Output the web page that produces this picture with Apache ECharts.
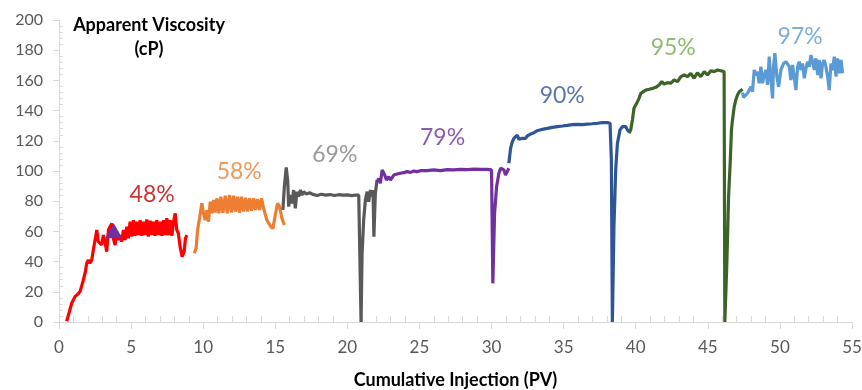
<!DOCTYPE html>
<html><head><meta charset="utf-8">
<script src="https://cdn.jsdelivr.net/npm/echarts@6/dist/echarts.min.js"></script>
<style>html,body{margin:0;padding:0;background:#fff}#c{width:862px;height:390px}</style>
</head><body><div id="c"></div>
<script>
// x range / ticks
const xMin = 0, xMax = 55, xStep = 5;
const yMin = 0, yMax = 200, yStep = 20;

// 48%
const red = [[0.53,0.5],[0.72,6.8],[0.88,12.4],[1.11,16.8],[1.3,18.5],[1.46,20.1],[1.69,27.8],[1.83,33.3],[1.92,38.9],[2.04,41.1],[2.15,38.9],[2.27,41.1],[2.38,47.7],[2.5,48.8],[2.62,60.9],[2.73,53.2],[2.85,54.3],[2.96,51.0],[3.08,57.6],[3.19,53.2],[3.31,46.6],[3.43,60.9],[3.54,63.1],[3.66,65.3],[3.77,55.4],[3.89,51.0],[4.0,59.8],[4.12,54.3],[4.24,57.6],[4.35,53.2],[4.47,60.9],[4.58,54.3],[4.7,63.1],[4.81,55.4],[4.93,66.4],[5.05,56.5],[5.16,67.5],[5.28,57.0],[5.39,66.4],[5.51,57.6],[5.63,67.5],[5.74,57.0],[5.86,66.4],[5.97,57.6],[6.09,68.0],[6.2,56.5],[6.32,67.1],[6.44,57.6],[6.55,66.4],[6.67,57.0],[6.78,67.5],[6.9,57.6],[7.01,66.4],[7.13,57.0],[7.25,67.5],[7.36,57.6],[7.48,68.7],[7.59,57.6],[7.71,67.5],[7.83,57.0],[7.94,66.4],[8.06,72.0],[8.17,60.9],[8.28,58.7],[8.4,49.9],[8.54,43.3],[8.68,46.6],[8.77,55.4],[8.87,57.6]];
// 58%
const orange = [[9.38,45.5],[9.51,48.8],[9.61,60.9],[9.75,68.7],[9.91,78.6],[10.02,72.0],[10.14,67.5],[10.26,74.2],[10.37,66.4],[10.49,79.7],[10.6,72.0],[10.72,80.8],[10.83,72.4],[10.95,81.9],[11.09,72.0],[11.23,83.0],[11.37,72.4],[11.53,83.7],[11.67,72.0],[11.83,84.1],[11.97,72.4],[12.11,83.7],[12.25,73.1],[12.39,83.0],[12.52,72.4],[12.66,83.0],[12.8,73.1],[12.94,82.3],[13.08,73.1],[13.22,81.9],[13.36,73.7],[13.5,81.9],[13.63,74.2],[13.77,81.5],[13.91,74.2],[14.05,81.9],[14.19,75.3],[14.42,67.5],[14.7,63.1],[14.84,62.0],[15.0,70.9],[15.16,78.6],[15.3,76.4],[15.46,68.7],[15.63,64.2]];
// 69%
const gray = [[15.53,74.2],[15.63,89.6],[15.76,102.4],[15.86,94.0],[15.93,76.4],[16.04,84.1],[16.16,78.6],[16.27,87.4],[16.39,75.3],[16.5,86.3],[16.62,83.0],[16.74,87.4],[16.85,84.1],[16.97,86.3],[17.15,84.8],[17.38,85.6],[17.6,84.5],[17.9,83.8],[18.2,84.6],[18.5,84.0],[18.8,84.4],[19.1,83.8],[19.4,84.3],[19.7,84.0],[20.0,84.2],[20.3,83.7],[20.6,84.1],[20.79,84.0],[20.95,0],[21.02,45.0],[21.13,67.5],[21.25,80.8],[21.37,86.3],[21.48,79.7],[21.6,87.4],[21.71,83.0],[21.78,87.4],[21.84,56.5],[21.94,85.2],[22.06,94.0]];
// 79%
const purple = [[22.06,92.9],[22.18,95.1],[22.29,91.8],[22.41,100.7],[22.52,101.8],[22.59,97.3],[22.71,94.0],[22.87,96.2],[22.99,94.0],[23.1,92.9],[23.22,97.3],[23.45,98.0],[23.68,98.5],[23.91,98.9],[24.14,99.6],[24.38,99.1],[24.61,100.0],[24.84,99.6],[25.07,100.2],[25.53,100.2],[25.99,100.7],[26.46,100.2],[26.92,100.9],[27.38,100.7],[27.85,101.1],[28.31,100.9],[28.77,101.3],[29.24,101.1],[29.7,101.1],[30.0,100.7],[30.09,25.6],[30.21,72.0],[30.35,89.6],[30.51,98.5],[30.63,101.8],[30.74,100.7],[30.86,100.7],[30.97,97.3],[31.09,96.2],[31.2,101.8]];
// 90%
const blue = [[31.2,105.1],[31.32,115.0],[31.44,119.4],[31.55,121.6],[31.67,122.7],[31.78,123.8],[31.9,121.0],[32.01,122.3],[32.13,121.6],[32.25,122.7],[32.36,121.6],[32.48,123.2],[32.71,124.5],[32.94,125.4],[33.17,126.7],[33.52,127.6],[33.87,128.2],[34.21,128.9],[34.56,129.4],[34.91,129.8],[35.25,130.2],[35.6,130.7],[35.95,130.9],[36.3,130.7],[36.64,131.1],[36.99,131.3],[37.34,131.6],[37.69,132.0],[38.03,132.0],[38.22,131.6],[38.31,107.3],[38.38,0],[38.49,63.1],[38.61,100.7],[38.73,118.3],[38.91,127.2],[39.07,129.4],[39.19,128.2],[39.31,129.4],[39.42,127.2],[39.54,126.0]];
// 95%
const green = [[39.54,125.0],[39.65,127.2],[39.77,133.8],[39.88,141.5],[40.0,143.7],[40.12,145.9],[40.23,148.1],[40.35,151.4],[40.46,152.5],[40.69,153.6],[40.93,154.1],[41.16,154.7],[41.39,155.4],[41.62,157.0],[41.81,159.2],[41.97,157.6],[42.2,158.5],[42.43,158.1],[42.66,160.3],[42.9,159.2],[43.13,162.5],[43.36,163.6],[43.59,162.5],[43.82,164.7],[44.05,161.4],[44.28,165.1],[44.51,162.5],[44.75,165.8],[44.98,163.6],[45.21,166.4],[45.44,165.8],[45.67,166.9],[45.9,166.4],[46.13,165.8],[46.18,0],[46.32,38.9],[46.44,83.0],[46.55,105.1],[46.64,127.2],[46.71,133.8],[46.83,142.6],[46.94,147.0],[47.06,150.3],[47.18,152.5],[47.29,152.5],[47.41,154.1]];
// 97%
const lightBlue = [[47.41,152.0],[47.48,148.8],[47.75,151.5],[47.99,155.8],[48.1,152.5],[48.22,166.9],[48.33,163.6],[48.45,165.8],[48.56,158.1],[48.68,169.1],[48.8,158.1],[48.91,163.6],[49.03,166.9],[49.14,157.0],[49.26,175.7],[49.38,160.3],[49.49,148.1],[49.56,169.1],[49.65,178.0],[49.79,162.5],[49.91,155.8],[50.07,166.9],[50.26,171.3],[50.42,172.4],[50.53,172.4],[50.65,169.1],[50.76,160.3],[50.88,170.2],[50.99,171.3],[51.11,153.6],[51.23,169.1],[51.34,172.4],[51.46,166.9],[51.57,171.3],[51.69,161.4],[51.81,168.0],[51.92,172.4],[52.04,169.1],[52.15,176.8],[52.27,172.4],[52.38,166.9],[52.5,174.6],[52.62,163.6],[52.73,173.5],[52.85,161.4],[52.96,171.3],[53.08,173.5],[53.19,169.1],[53.31,162.5],[53.42,153.6],[53.54,171.3],[53.66,166.9],[53.77,175.7],[53.89,162.5],[54.0,174.6],[54.12,164.7],[54.24,173.5],[54.35,164.7]];

// marker
const triangle = [[3.8,60.4]];

// annotation labels
const labelTexts = ['48%','58%','69%','79%','90%','95%','97%'];
const labelX = [6.46,12.5,19.13,26.6,34.9,42.6,51.4];
const labelY = [84.1,99.3,110.6,121.9,149.7,181.5,188.7];

const lineColors = ['#FF0000','#ED7D31','#595959','#7030A0','#2F5597','#3D6427','#5B9BD5'];
const labelColors = ['#C00000','#ED7D31','#7F7F7F','#7030A0','#2F5597','#70AD47','#5B9BD5'];
const segs = [red, orange, gray, purple, blue, green, lightBlue];

const FONT = 'Lato, "Open Sans", sans-serif';
const axisGray = '#D9D9D9';

const series = segs.map((d, i) => ({
  type: 'line', data: d, showSymbol: false, symbol: 'none',
  lineStyle: { color: lineColors[i], width: 3.2 }, itemStyle: { color: lineColors[i] },
  z: 2 + i, silent: true
}));
series.push({
  type: 'scatter', data: triangle, symbol: 'triangle', symbolSize: [17, 15],
  itemStyle: { color: '#7030A0', opacity: 1 }, z: 20, silent: true
});
series.push({
  type: 'scatter', symbolSize: 0, z: 30, silent: true,
  data: labelTexts.map((t, i) => ({
    value: [labelX[i], labelY[i]], name: t,
    label: { show: true, position: 'inside', formatter: t, color: labelColors[i],
             fontSize: 23, fontFamily: FONT }
  }))
});

const chart = echarts.init(document.getElementById('c'));
chart.setOption({
  animation: false,
  backgroundColor: '#fff',
  grid: { left: 59, right: 10, top: 20, bottom: 68, containLabel: false, outerBoundsMode: 'none' },
  xAxis: {
    type: 'value', min: xMin, max: xMax, interval: xStep,
    axisLine: { show: true, lineStyle: { color: axisGray, width: 1 } },
    axisTick: { show: true, length: 7, lineStyle: { color: axisGray } },
    minorTick: { show: true, splitNumber: 5, length: -6, lineStyle: { color: axisGray } },
    splitLine: { show: false }, minorSplitLine: { show: false },
    axisLabel: { color: '#595959', fontSize: 17, fontFamily: FONT, margin: 17, showMinLabel: true, showMaxLabel: true, hideOverlap: false },
    name: 'Cumulative Injection (PV)', nameLocation: 'middle', nameGap: 49,
    nameTextStyle: { fontWeight: 'bold', fontSize: 18, color: '#000', fontFamily: FONT }
  },
  yAxis: {
    type: 'value', min: yMin, max: yMax, interval: yStep,
    axisLine: { show: true, lineStyle: { color: axisGray, width: 1 } },
    axisTick: { show: true, length: 6, lineStyle: { color: axisGray } },
    minorTick: { show: true, splitNumber: 5, length: -4, lineStyle: { color: axisGray } },
    splitLine: { show: false }, minorSplitLine: { show: false },
    axisLabel: { color: '#595959', fontSize: 16, fontFamily: FONT, margin: 16, showMinLabel: true, showMaxLabel: true }
  },
  graphic: [{
    type: 'text', x: 149, y: 25, z: 50,
    style: { text: 'Apparent Viscosity', font: 'bold 18px ' + FONT, fill: '#000', align: 'center', verticalAlign: 'middle' }
  }, {
    type: 'text', x: 149, y: 49, z: 50,
    style: { text: '(cP)', font: 'bold 18px ' + FONT, fill: '#000', align: 'center', verticalAlign: 'middle' }
  }],
  series: series
});
</script>
</body></html>
